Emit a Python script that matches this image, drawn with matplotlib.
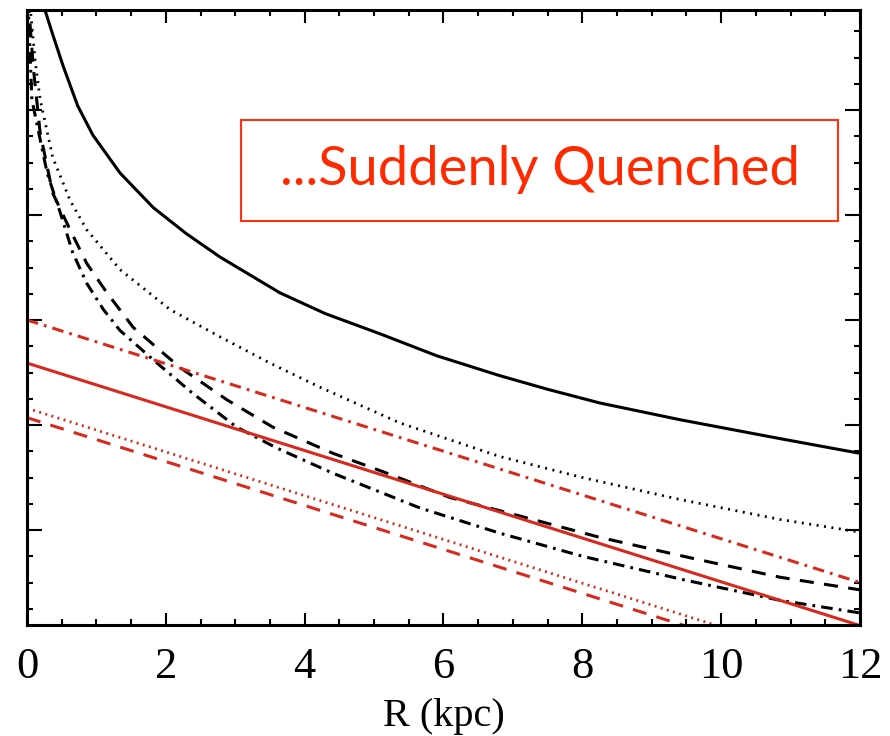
import matplotlib
matplotlib.use("Agg")
import matplotlib.pyplot as plt
from matplotlib.ticker import MultipleLocator, NullFormatter
from matplotlib.patches import Rectangle

# ---- data ----
R_black_solid = [0.20, 0.26, 0.37, 0.52, 0.73, 0.95, 1.34, 1.82, 2.30, 2.78, 3.64, 4.30, 5.08, 5.90, 6.81, 7.50, 8.25, 9.41, 10.85, 12.0]
V_black_solid = [6.25, 5.95, 5.72, 5.42, 5.04, 4.76, 4.40, 4.07, 3.82, 3.60, 3.26, 3.06, 2.87, 2.66, 2.47, 2.34, 2.21, 2.05, 1.87, 1.73]

R_black_dotted = [0.02, 0.05, 0.12, 0.19, 0.37, 0.62, 0.86, 1.34, 2.06, 2.78, 3.5, 4.22, 5.37, 6.81, 8.0, 9.41, 10.85, 12.0]
V_black_dotted = [6.20, 5.95, 5.45, 5.10, 4.55, 4.14, 3.86, 3.48, 3.10, 2.84, 2.59, 2.36, 2.02, 1.70, 1.50, 1.29, 1.10, 0.98]

R_black_dashed = [0.0, 0.09, 0.19, 0.37, 0.62, 0.86, 1.15, 1.53, 2.2, 2.88, 3.54, 4.41, 5.19, 6.09, 7.29, 8.25, 9.59, 10.85, 12.0]
V_black_dashed = [6.20, 5.41, 4.78, 4.21, 3.86, 3.54, 3.26, 2.93, 2.55, 2.24, 1.98, 1.73, 1.54, 1.31, 1.10, 0.93, 0.73, 0.55, 0.43]

R_black_dashdot = [0.0, 0.07, 0.29, 0.48, 0.66, 0.86, 1.1, 1.34, 1.82, 2.39, 3.02, 3.6, 4.41, 5.66, 6.81, 8.0, 9.5, 10.85, 12.0]
V_black_dashdot = [6.30, 5.10, 4.40, 4.02, 3.64, 3.35, 3.10, 2.90, 2.62, 2.30, 1.98, 1.78, 1.54, 1.21, 0.97, 0.75, 0.52, 0.33, 0.21]

R_red = [0.0, 12.0]
V_red_solid = [2.59, 0.09]
V_red_dashdot = [3.00, 0.50]
V_red_dotted = [2.16, -0.34]
V_red_dashed = [2.07, -0.44]

x_ticks = [0, 2, 4, 6, 8, 10, 12]
x_ticklabels = ["0", "2", "4", "6", "8", "10", "12"]
x_label = "R (kpc)"
box_text = "...Suddenly Quenched"

# ---- figure ----
fig = plt.figure(figsize=(8.9, 7.36), dpi=100)
ax = fig.add_axes([27/890, 1 - 625/736, (860 - 27)/890, (625 - 10)/736])

blk = "black"
red = "#d62a1e"
lw = 2.2
dash = (0, (4.6, 3.4))
dashdot = (0, (3.8, 2.0, 0.9, 2.0))
ax.plot(R_black_solid, V_black_solid, color=blk, lw=lw)
ax.plot(R_black_dotted, V_black_dotted, color=blk, lw=2.0, linestyle=(0, (0.7, 2.0)))
ax.plot(R_black_dashed, V_black_dashed, color=blk, lw=lw, linestyle=dash)
ax.plot(R_black_dashdot, V_black_dashdot, color=blk, lw=lw, linestyle=dashdot)

ax.plot(R_red, V_red_solid, color=red, lw=lw)
ax.plot(R_red, V_red_dashdot, color=red, lw=lw, linestyle=dashdot)
ax.plot(R_red, V_red_dotted, color=red, lw=2.0, linestyle=(0, (0.7, 1.6)))
ax.plot(R_red, V_red_dashed, color=red, lw=lw, linestyle=dash)

ax.set_xlim(0, 12)
ax.set_ylim(1 - 95/105, 1 + 520/105)

ax.xaxis.set_minor_locator(MultipleLocator(0.5))
ax.yaxis.set_major_locator(MultipleLocator(1))
ax.yaxis.set_minor_locator(MultipleLocator(0.25))
ax.set_xticks(x_ticks)
ax.set_xticklabels(x_ticklabels, family="Liberation Serif", fontsize=32)
ax.yaxis.set_major_formatter(NullFormatter())
ax.tick_params(which="both", direction="in", top=True, right=True, width=1.5)
ax.tick_params(axis="x", pad=16)
ax.tick_params(which="major", length=9)
ax.tick_params(which="minor", length=4.5)
ax.tick_params(axis="y", which="major", length=11)
for s in ax.spines.values():
    s.set_linewidth(2.2)

ax.set_xlabel(x_label, family="Liberation Serif", fontsize=29, labelpad=8)

# annotation box
fig.patches.append(Rectangle((241/890, 1 - 221/736), (838 - 241)/890, (221 - 120)/736,
                             transform=fig.transFigure, fill=False,
                             edgecolor="#ff3312", lw=1.5))
fig.text((283 + 797)/2/890, 1 - 170/736, box_text, color="#ff2a00",
         family="Lato", fontsize=39, ha="center", va="center")

fig.savefig("out.png", dpi=100)
